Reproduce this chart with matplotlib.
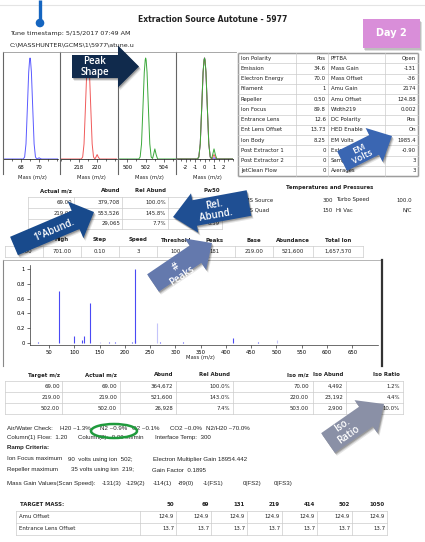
import numpy as np
import matplotlib
matplotlib.use("Agg")
import matplotlib.pyplot as plt
import matplotlib.patches as mpatches
from matplotlib.ticker import MultipleLocator, FixedLocator, FuncFormatter

W, H = 425, 542
plt.rcParams["font.family"] = ["DejaVu Sans"]
plt.rcParams["axes.unicode_minus"] = False

# ---------- data ----------
# peak profiles: offset from nominal mass (amu) vs relative abundance
PROFILE_OFFSET = [-3.5, -0.75, -0.6, -0.45, -0.3, -0.15, -0.05, 0.0, 0.05, 0.15,
                  0.3, 0.45, 0.6, 0.75, 0.85, 1.0, 1.15, 1.3, 3.5]
PROFILE_69 = [0, 0, 0.02, 0.15, 0.5, 0.86, 0.98, 1.0, 0.98, 0.86,
              0.5, 0.15, 0.02, 0, 0.004, 0.012, 0.004, 0, 0]
PROFILE_219 = [0, 0, 0.02, 0.15, 0.5, 0.86, 0.98, 1.0, 0.98, 0.86,
               0.5, 0.15, 0.02, 0, 0.015, 0.044, 0.015, 0, 0]
PROFILE_502 = [0, 0, 0.02, 0.15, 0.5, 0.86, 0.98, 1.0, 0.98, 0.86,
               0.5, 0.15, 0.02, 0.005, 0.04, 0.10, 0.04, 0, 0]
PEAK_MASSES = [69, 219, 502]
PEAK_TICKS = [[68, 70], [218, 220], [500, 502, 504]]
OVERLAY_TICKS = [-2, -1, 0, 1, 2]

# scan spectrum (m/z, normalised abundance)
SPEC_MZ = [18, 28, 45, 69, 82, 95, 100, 114, 119, 131, 150, 169, 181, 214,
           219, 220, 264, 270, 314, 414, 464, 502]
SPEC_ABUND = [0.005, 0.008, 0.006, 0.70, 0.005, 0.006, 0.10, 0.04, 0.09, 0.54,
              0.015, 0.02, 0.01, 0.01, 1.0, 0.04, 0.27, 0.01, 0.01, 0.07, 0.008, 0.045]
SPEC_FAINT = [150, 264, 502]

TUNE_ROWS = [
    ("Ion Polarity", "Pos", "PFTBA", "Open"),
    ("Emission", "34.6", "Mass Gain", "-131"),
    ("Electron Energy", "70.0", "Mass Offset", "-36"),
    ("Filament", "1", "Amu Gain", "2174"),
    ("Repeller", "0.50", "Amu Offset", "124.88"),
    ("Ion Focus", "89.8", "Width219", "0.002"),
    ("Entrance Lens", "12.6", "DC Polarity", "Pos"),
    ("Ent Lens Offset", "13.73", "HED Enable", "On"),
    ("Ion Body", "8.25", "EM Volts", "1985.4"),
    ("Post Extractor 1", "0", "Extractor Lens", "-0.90"),
    ("Post Extractor 2", "0", "Samples", "3"),
    ("JetClean Flow", "0", "Averages", "3"),
]
PEAK_HEAD = ["Actual m/z", "Abund", "Rel Abund", "Pw50"]
PEAK_ROWS = [
    ["69.00", "379,708", "100.0%", "0.60"],
    ["219.00", "553,526", "145.8%", "0.55"],
    ["502.00", "29,065", "7.7%", "0.59"],
]
SCAN_HEAD = ["Low", "High", "Step", "Speed", "Threshold", "Peaks", "Base", "Abundance", "Total Ion"]
SCAN_VALS = ["10.00", "701.00", "0.10", "3", "100", "181", "219.00", "521,600", "1,657,570"]
TEMP_ROWS = [("MS Source", "300", "Turbo Speed", "100.0"),
             ("MS Quad", "150", "Hi Vac", "N/C")]
TARGET_HEAD = ["Target m/z", "Actual m/z", "Abund", "Rel Abund", "Iso m/z", "Iso Abund", "Iso Ratio"]
TARGET_ROWS = [
    ["69.00", "69.00", "364,672", "100.0%", "70.00", "4,492", "1.2%"],
    ["219.00", "219.00", "521,600", "143.0%", "220.00", "23,192", "4.4%"],
    ["502.00", "502.00", "26,928", "7.4%", "503.00", "2,900", "10.0%"],
]
AIR_WATER = ["H20 ~1.3%", "N2 ~0.9%", "O2 ~0.1%", "CO2 ~0.0%", "N2/H20 ~70.0%"]
MASS_GAIN = ["-131(3)", "-129(2)", "-114(1)", "-89(0)", "-1(FS1)", "0(FS2)", "0(FS3)"]
TARGET_MASS = ["50", "69", "131", "219", "414", "502", "1050"]
AMU_OFFSET = ["124.9"] * 7
ENT_LENS_OFFSET = ["13.7"] * 7

# ---------- canvas (1 unit = 1 px, y down) ----------
fig = plt.figure(figsize=(W / 100, H / 100), dpi=100)
fig.patch.set_facecolor("white")
ax = fig.add_axes([0, 0, 1, 1])
ax.set_xlim(0, W)
ax.set_ylim(H, 0)
ax.axis("off")
ax.patch.set_visible(False)
ax.set_zorder(5)

TXT = "#222222"
GRID = "#cccccc"
FS = 3.9
BODY = ["Liberation Sans", "DejaVu Sans"]


def px_axes(x0, y0, x1, y1):
    a = fig.add_axes([x0 / W, 1 - y1 / H, (x1 - x0) / W, (y1 - y0) / H])
    a.patch.set_visible(False)
    return a


def T(x, y, s, ha="left", fs=FS, bold=False, color=TXT, **kw):
    ax.text(x, y, s, ha=ha, va="center", fontsize=fs, color=color,
            fontweight="bold" if bold else "normal", **kw)


def B(x, y, s, bold=False):
    # free text block under the tables
    T(x, y, s, fs=4.4, bold=bold, family=BODY)


def grid(xs, ys, color=GRID, lw=0.5):
    for x in xs:
        ax.plot([x, x], [ys[0], ys[-1]], color=color, lw=lw)
    for y in ys:
        ax.plot([xs[0], xs[-1]], [y, y], color=color, lw=lw)


def block_arrow(tail, tip, body_w, head_w, head_len, color, label, text_xy, fs=7):
    tail = np.array(tail, float)
    tip = np.array(tip, float)
    d = tip - tail
    u = d / np.hypot(*d)
    n = np.array([-u[1], u[0]])
    neck = tip - u * head_len
    pts = np.array([tail + n * body_w / 2, neck + n * body_w / 2, neck + n * head_w / 2,
                    tip, neck - n * head_w / 2, neck - n * body_w / 2, tail - n * body_w / 2])
    for k, a in ((3.0, 0.10), (2.0, 0.15), (1.2, 0.2)):
        ax.add_patch(mpatches.Polygon(pts + [k * 0.7, k], closed=True, fc="black",
                                      ec="none", alpha=a, zorder=8))
    ax.add_patch(mpatches.Polygon(pts, closed=True, fc=color, ec="none", zorder=9))
    rot = np.degrees(np.arctan2(-d[1], d[0]))
    if d[0] < 0:
        rot -= 180 if rot > 0 else -180
    ax.text(text_xy[0], text_xy[1], label, ha="center", va="center", color="white",
            fontsize=fs, rotation=rot, rotation_mode="anchor", linespacing=1.0,
            family=["Open Sans", "DejaVu Sans"], fontweight="semibold", zorder=10)


# ---------- header ----------
ax.plot([0, W], [5, 5], color="#e4e4e4", lw=0.8)
ax.plot([40, 40], [0, 22], color="#1565c0", lw=2.4, solid_capstyle="butt")
ax.add_patch(mpatches.Circle((40, 23), 3.6, color="#1565c0"))
T(213, 20, "Extraction Source Autotune - 5977", ha="center", fs=5.5, bold=True)
T(10, 33, "Tune timestamp: 5/15/2017 07:49 AM", fs=4.6)
T(10, 45, "C:\\MASSHUNTER\\GCMS\\1\\5977\\atune.u", fs=4.6)

for k, a in ((3, 0.12), (2, 0.15)):
    ax.add_patch(mpatches.Rectangle((363 + k * 0.6, 19 + k), 57, 29, fc="black", alpha=a, ec="none"))
ax.add_patch(mpatches.Rectangle((363, 19), 57, 29, fc="#d98ed9", ec="none"))
ax.text(391.5, 33.5, "Day 2", ha="center", va="center", fontsize=7, color="white",
        fontweight="bold")

# ---------- peak shape panels ----------
for x in (3, 60, 118, 176):
    ax.plot([x, x], [52, 174], color="#666666", lw=0.8)
ax.plot([3, 236], [52, 52], color="#999999", lw=0.6)

panel_x = [(3, 58), (61, 117), (119, 176), (177, 233)]
profiles = [PROFILE_69, PROFILE_219, PROFILE_502]
colors = ["#5a5aff", "#f05a5a", "#3aa83a"]
xlims = [(66.0, 72.1), (216.0, 222.2), (499.1, 505.3), (-2.9, 3.0)]
for i, (x0, x1) in enumerate(panel_x):
    pa = px_axes(x0, 55, x1, 159)
    if i < 3:
        pa.plot(np.array(PROFILE_OFFSET) + PEAK_MASSES[i], profiles[i], color=colors[i], lw=0.7)
        pa.xaxis.set_major_locator(FixedLocator(PEAK_TICKS[i]))
        pa.xaxis.set_minor_locator(MultipleLocator(1))
    else:
        for prof, c in zip(profiles, colors):
            pa.plot(PROFILE_OFFSET, prof, color=c, lw=0.7)
        pa.xaxis.set_major_locator(FixedLocator(OVERLAY_TICKS))
        pa.xaxis.set_minor_locator(MultipleLocator(0.5))
    pa.set_xlim(*xlims[i])
    pa.set_ylim(0, 1.03)
    for s in ("top", "right", "left"):
        pa.spines[s].set_visible(False)
    pa.spines["bottom"].set_linewidth(0.5)
    pa.set_yticks([])
    pa.tick_params(axis="x", which="major", labelsize=3.8, length=2.5, width=0.4, pad=1.5)
    pa.tick_params(axis="x", which="minor", length=1.5, width=0.4)
    T((x0 + x1) / 2 + 2, 177, "Mass (m/z)", ha="center", fs=3.8)

# ---------- tune parameter table ----------
tx = [238, 296, 328, 385, 418]
ty = [53 + 10.25 * k for k in range(len(TUNE_ROWS) + 1)]
grid(tx, ty)
ax.add_patch(mpatches.Rectangle((tx[0], ty[0]), tx[-1] - tx[0], ty[-1] - ty[0],
                                fill=False, ec="#333333", lw=0.9))
for k, (l1, v1, l2, v2) in enumerate(TUNE_ROWS):
    yc = (ty[k] + ty[k + 1]) / 2
    T(241, yc, l1)
    T(326, yc, v1, ha="right")
    T(331, yc, l2)
    T(416, yc, v2, ha="right")

T(330, 187, "Temperatures and Pressures", ha="center", bold=True)
for k, (l1, v1, l2, v2) in enumerate(TEMP_ROWS):
    yc = 200 + 10 * k
    T(245, yc, l1)
    T(333, yc, v1, ha="right")
    T(336, yc, l2)
    T(412, yc, v2, ha="right")

# ---------- peak table ----------
px = [28, 74, 122, 168, 222]
py = [197, 208, 218.5, 229]
grid(px, py)
for j, h in enumerate(PEAK_HEAD):
    T(px[j + 1] - 2, 191, h, ha="right", bold=True)
for k, row in enumerate(PEAK_ROWS):
    for j, v in enumerate(row):
        T(px[j + 1] - 2, (py[k] + py[k + 1]) / 2, v, ha="right")

# ---------- scan table ----------
sx = [5, 43, 81, 119, 157, 195, 235, 273, 313, 363]
grid(sx, [245.5, 257])
for j, (h, v) in enumerate(zip(SCAN_HEAD, SCAN_VALS)):
    xc = (sx[j] + sx[j + 1]) / 2
    T(xc, 240, h, ha="center", bold=True)
    T(xc, 251.5, v, ha="center")

# ---------- full scan spectrum ----------
ax.plot([3, 3], [260, 366], color="#888888", lw=0.8)
ax.plot([3, 382], [260, 260], color="#aaaaaa", lw=0.6)
ax.plot([382, 382], [260, 366], color="#333333", lw=1.6)
sa = px_axes(30, 265, 378, 345)
spec_colors = ["#c4c4fa" if m in SPEC_FAINT else "#4a4af5" for m in SPEC_MZ]
sa.vlines(SPEC_MZ, 0, SPEC_ABUND, colors=spec_colors, lw=0.8)
sa.set_xlim(12, 701)
sa.set_ylim(-0.027, 1.054)
sa.spines["top"].set_visible(False)
sa.spines["right"].set_visible(False)
for s in ("left", "bottom"):
    sa.spines[s].set_linewidth(0.5)
    sa.spines[s].set_color("#333333")
sa.set_xticks(np.arange(50, 651, 50))
sa.set_yticks([0, 0.2, 0.4, 0.6, 0.8, 1.0])
sa.yaxis.set_major_formatter(FuncFormatter(lambda v, _: f"{v:g}"))
sa.tick_params(labelsize=3.8, length=2, width=0.4, pad=1.5)
T(200, 358, "Mass (m/z)", ha="center", fs=3.8)

# ---------- target table ----------
gx = [5, 62, 120, 176, 233, 313, 346, 403]
gy = [381, 392, 403, 414]
grid(gx, gy)
rx = [60, 117, 173, 230, 309, 343, 400]
for j, h in enumerate(TARGET_HEAD):
    T(rx[j], 375, h, ha="right", bold=True)
for k, row in enumerate(TARGET_ROWS):
    for j, v in enumerate(row):
        T(rx[j], (gy[k] + gy[k + 1]) / 2, v, ha="right")

# ---------- text block ----------
B(7, 429, "Air/Water Check:")
for xx, s in zip([60, 100, 132, 170, 206], AIR_WATER):
    B(xx, 429, s)
ax.add_patch(mpatches.Ellipse((114, 431), 46, 14, fill=False, ec="#1f9a3c", lw=1.8, zorder=6))
B(7, 438, "Column(1) Flow:  1.20")
B(78, 438, "Column(2):  0.00 ml/min")
B(155, 438, "Interface Temp:  300")
B(7, 448, "Ramp Criteria:", bold=True)
B(7, 459, "Ion Focus maximum")
B(68, 459, "90  volts using ion  502;")
B(153, 459, "Electron Multiplier Gain 18954.442")
B(7, 470, "Repeller maximum")
B(71, 470, "35 volts using ion  219;")
B(152, 470, "Gain Factor  0.1895")
B(7, 484, "Mass Gain Values(Scan Speed):")
for xx, s in zip([102, 126, 153, 178, 203, 243, 274], MASS_GAIN):
    B(xx, 484, s)

# ---------- target mass table ----------
bx = [16, 140, 176, 211, 247, 282, 317, 352, 387]
by = [511, 523, 535]
grid(bx, by)
T(20, 505, "TARGET MASS:", bold=True)
T(19, 517, "Amu Offset")
T(19, 529, "Entrance Lens Offset")
for j in range(len(TARGET_MASS)):
    xr = bx[j + 2] - 2
    T(xr, 505, TARGET_MASS[j], ha="right", bold=True)
    T(xr, 517, AMU_OFFSET[j], ha="right")
    T(xr, 529, ENT_LENS_OFFSET[j], ha="right")

# ---------- callout arrows ----------
block_arrow((72, 66.5), (139, 66.5), 23, 42, 21, "#102a4c", "Peak\nShape", (95, 67), fs=7)
block_arrow((14, 246), (94, 212), 20, 40, 20, "#184a8c", "1°Abund.", (54, 230), fs=7)
block_arrow((249, 203), (173, 217), 26, 40, 22, "#1f4f93", "Rel.\nAbund.", (215, 210), fs=7)
block_arrow((153, 283), (212, 243), 21, 38, 20, "#6479ad", "#\nPeaks", (179, 272), fs=7)
block_arrow((342, 161), (392, 136), 22, 38, 20, "#3a66b2", "EM\nVolts", (361, 153), fs=6.5)
block_arrow((328, 443), (384, 404), 24, 40, 22, "#8a90a6", "Iso.\nRatio", (346, 430), fs=7)

fig.savefig("out.png", dpi=100, facecolor="white")
